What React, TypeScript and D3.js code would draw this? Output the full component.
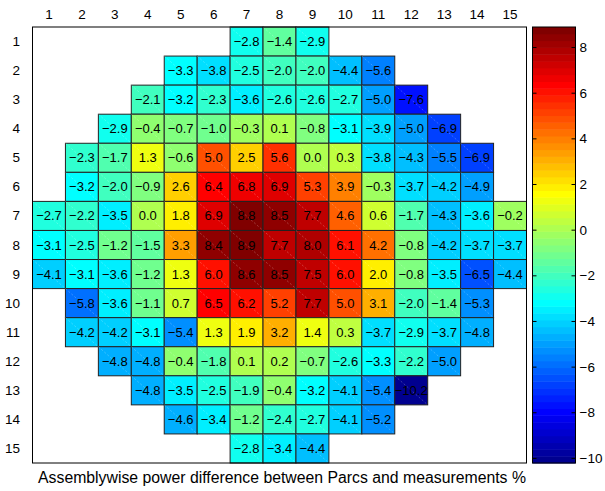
import React from "react";
import * as d3 from "d3";

// assembly map, 15 x 15, values in %
const columns = [1, 2, 3, 4, 5, 6, 7, 8, 9, 10, 11, 12, 13, 14, 15];
const rows = [1, 2, 3, 4, 5, 6, 7, 8, 9, 10, 11, 12, 13, 14, 15];

// first occupied column of every row
const rowStart = [7, 5, 4, 3, 2, 2, 1, 1, 1, 2, 2, 3, 4, 5, 7];

const rowValues = [
  [-2.8, -1.4, -2.9],
  [-3.3, -3.8, -2.5, -2.0, -2.0, -4.4, -5.6],
  [-2.1, -3.2, -2.3, -3.6, -2.6, -2.6, -2.7, -5.0, -7.6],
  [-2.9, -0.4, -0.7, -1.0, -0.3, 0.1, -0.8, -3.1, -3.9, -5.0, -6.9],
  [-2.3, -1.7, 1.3, -0.6, 5.0, 2.5, 5.6, 0.0, 0.3, -3.8, -4.3, -5.5, -6.9],
  [-3.2, -2.0, -0.9, 2.6, 6.4, 6.8, 6.9, 5.3, 3.9, -0.3, -3.7, -4.2, -4.9],
  [-2.7, -2.2, -3.5, 0.0, 1.8, 6.9, 8.8, 8.5, 7.7, 4.6, 0.6, -1.7, -4.3, -3.6, -0.2],
  [-3.1, -2.5, -1.2, -1.5, 3.3, 8.4, 8.9, 7.7, 8.0, 6.1, 4.2, -0.8, -4.2, -3.7, -3.7],
  [-4.1, -3.1, -3.6, -1.2, 1.3, 6.0, 8.6, 8.5, 7.5, 6.0, 2.0, -0.8, -3.5, -6.5, -4.4],
  [-5.8, -3.6, -1.1, 0.7, 6.5, 6.2, 5.2, 7.7, 5.0, 3.1, -2.0, -1.4, -5.3],
  [-4.2, -4.2, -3.1, -5.4, 1.3, 1.9, 3.2, 1.4, 0.3, -3.7, -2.9, -3.7, -4.8],
  [-4.8, -4.8, -0.4, -1.8, 0.1, 0.2, -0.7, -2.6, -3.3, -2.2, -5.0],
  [-4.8, -3.5, -2.5, -1.9, -0.4, -3.2, -4.1, -5.4, -10.2],
  [-4.6, -3.4, -1.2, -2.4, -2.7, -4.1, -5.2],
  [-2.8, -3.4, -4.4],
];

const colorTicks = [8, 6, 4, 2, 0, -2, -4, -6, -8, -10];
const xLabel = "Assemblywise power difference between Parcs and measurements %";

// matlab jet(64)
const jet64 = d3.range(64).map((i) => {
  const k = i + 1;
  const c = (v) => Math.max(0, Math.min(1, v));
  const r = c(Math.min((k - 24) / 16, 1, (72 - k) / 16));
  const g = c(Math.min((k - 8) / 16, 1, (56 - k) / 16));
  const b = c(Math.min((k + 8) / 16, 1, (40 - k) / 16));
  return d3.rgb(r * 255, g * 255, b * 255).formatHex();
});

const cells = [];
rowValues.forEach((vals, ri) => {
  vals.forEach((v, ci) => {
    cells.push({ row: rows[ri], col: rowStart[ri] + ci, value: v });
  });
});

const App = () => {
  const W = 605;
  const H = 491;
  const left = 32.5;
  const right = 526.5;
  const top = 27;
  const bottom = 463;
  const font = "Liberation Sans, Arial, Helvetica, sans-serif";

  const vmin = d3.min(cells, (d) => d.value);
  const vmax = d3.max(cells, (d) => d.value);

  const x = d3.scaleBand().domain(columns).range([left, right]);
  const y = d3.scaleBand().domain(rows).range([top, bottom]);
  const color = d3.scaleQuantize().domain([vmin, vmax]).range(jet64);
  const fmt = d3.format(".1f");

  const cbLeft = 532.5;
  const cbRight = 575.5;
  const cy = d3.scaleLinear().domain([vmin, vmax]).range([bottom, top]);
  const bandH = (bottom - top) / 64;

  return (
    <svg width={W} height={H} style={{ position: "absolute", left: 0, top: 0, background: "#fff" }}>
      <rect x={left} y={top} width={right - left} height={bottom - top} fill="#fff" />
      {cells.map((d) => (
        <g key={d.row + "-" + d.col}>
          <rect
            x={x(d.col)}
            y={y(d.row)}
            width={x.bandwidth()}
            height={y.bandwidth()}
            fill={color(d.value)}
            stroke="#222"
            strokeWidth={1}
          />
          <line
            x1={x(d.col)}
            y1={y(d.row)}
            x2={x(d.col) + x.bandwidth()}
            y2={y(d.row) + y.bandwidth()}
            stroke="#fff"
            strokeOpacity={0.4}
            strokeWidth={0.6}
            strokeDasharray="2,2"
          />
          <text
            x={x(d.col) + x.bandwidth() / 2}
            y={y(d.row) + y.bandwidth() / 2}
            textAnchor="middle"
            dominantBaseline="central"
            fontFamily={font}
            fontSize={13}
            fill="#000"
          >
            {fmt(d.value)}
          </text>
        </g>
      ))}
      <rect x={left} y={top} width={right - left} height={bottom - top} fill="none" stroke="#000" strokeWidth={1} />

      {columns.map((c) => (
        <text key={"xt" + c} x={x(c) + x.bandwidth() / 2} y={14} textAnchor="middle" dominantBaseline="central" fontFamily={font} fontSize={13.5}>
          {c}
        </text>
      ))}
      {rows.map((r) => (
        <text key={"yt" + r} x={20} y={y(r) + y.bandwidth() / 2} textAnchor="end" dominantBaseline="central" fontFamily={font} fontSize={13.5}>
          {r}
        </text>
      ))}

      <text x={282} y={477} textAnchor="middle" dominantBaseline="central" fontFamily={font} fontSize={15.8}>
        {xLabel}
      </text>

      {jet64.map((c, i) => (
        <rect key={"cb" + i} x={cbLeft} y={bottom - (i + 1) * bandH} width={cbRight - cbLeft} height={bandH + 0.5} fill={c} />
      ))}
      <rect x={cbLeft} y={top} width={cbRight - cbLeft} height={bottom - top} fill="none" stroke="#000" strokeWidth={1} />
      {colorTicks.map((t) => (
        <g key={"ct" + t}>
          <line x1={cbLeft} x2={cbLeft + 4} y1={cy(t)} y2={cy(t)} stroke="#000" />
          <line x1={cbRight - 4} x2={cbRight} y1={cy(t)} y2={cy(t)} stroke="#000" />
          <text x={cbRight + 4} y={cy(t)} dominantBaseline="central" fontFamily={font} fontSize={13.5}>
            {d3.format("d")(t)}
          </text>
        </g>
      ))}
    </svg>
  );
};

export default App;
